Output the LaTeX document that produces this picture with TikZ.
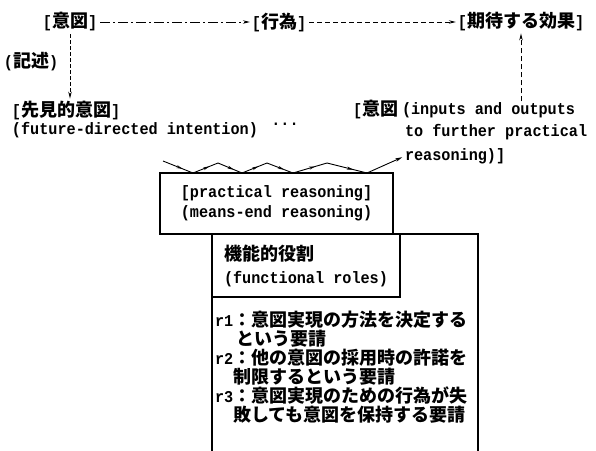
\documentclass[tikz,border=0pt]{standalone}
\usepackage{fontspec}
\setmonofont{Liberation Mono}[FakeStretch=0.92]
\newfontfamily\jpfont{Noto Sans CJK JP}
\usetikzlibrary{arrows.meta,decorations.markings}
\newcommand{\jtxt}[1]{{\jpfont\bfseries\fontsize{18}{19}\selectfont #1}}
\newcommand{\etxt}[1]{{\ttfamily\bfseries\fontsize{16.5}{20}\selectfont #1}}
\begin{document}
\begin{tikzpicture}[x=1pt,y=-1pt,
  every node/.style={inner sep=0pt, outer sep=0pt},
  lbl/.style={anchor=west},
  box/.style={draw, line width=1.1pt},
  arr/.style={line width=0.9pt,-{Stealth[length=7pt,width=3.5pt]}},
  dashdot/.style={dash pattern=on 10pt off 3pt on 2pt off 3pt},
  dsh/.style={dash pattern=on 5pt off 3pt},
  vdsh/.style={dash pattern=on 4pt off 2pt},
  zz/.style={line width=0.9pt, postaction={decorate},
    decoration={markings, mark=at position 0.65 with {\arrow{Stealth[length=6pt,width=3pt]}}}},
  boxfont/.style={font=\ttfamily\bfseries\fontsize{16.5}{20}\selectfont}
]
\useasboundingbox (0,0) rectangle (596,450);

% top row
\node (ito) at (70,22) {\etxt{[}\jtxt{意図}\etxt{]}};
\node (koui) at (279,22) {\etxt{[}\jtxt{行為}\etxt{]}};
\node (kitai) at (521,22) {\etxt{[}\jtxt{期待する効果}\etxt{]}};

\node[lbl] (kijutsu) at (4,62) {\etxt{(}\jtxt{記述}\etxt{)}};
\node[lbl] (senken) at (12,111) {\etxt{[}\jtxt{先見的意図}\etxt{]}};
\node[lbl] (future) at (12,130) {\etxt{(future-directed intention)}};
\node (dots) at (285,124) {\etxt{...}};

\node[lbl] (ito2) at (353,110) {\etxt{[}\jtxt{意図}};
\node[lbl] (inputs) at (402,110) {\etxt{(inputs and outputs}};
\node[lbl] (further) at (405,132) {\etxt{to further practical}};
\node[lbl] (reas) at (405,156) {\etxt{reasoning)]}};

% boxes
\node[box, boxfont, minimum width=233pt, minimum height=61pt, align=center] (pr) at (276.5,203.5)
  {[practical reasoning]\\(means-end reasoning)};
\draw[box] (212,451) -- (212,234) -- (478,234) -- (478,451);
\node[box, minimum width=188pt, minimum height=63pt, align=left,
  font=\fontsize{15}{23}\selectfont] (fr) at (306,265.5)
  {\jtxt{機能的役割}\\\etxt{(functional roles)}};

\node[lbl] (q1) at (215,320) {\etxt{r1}\jtxt{：意図実現の方法を決定する}};
\node[lbl] (q2) at (236,339) {\jtxt{という要請}};
\node[lbl] (q3) at (215,358) {\etxt{r2}\jtxt{：他の意図の採用時の許諾を}};
\node[lbl] (q4) at (233,377) {\jtxt{制限するという要請}};
\node[lbl] (q5) at (215,396) {\etxt{r3}\jtxt{：意図実現のための行為が失}};
\node[lbl] (q6) at (233,415) {\jtxt{敗しても意図を保持する要請}};

% arrows
\draw[arr, dashdot, shorten <=3pt, shorten >=2pt] (ito) -- (koui);
\draw[arr, dsh, shorten <=3pt, shorten >=2pt] (koui) -- (kitai);
\draw[arr, vdsh, shorten <=3pt, shorten >=3pt] (ito.south) -- (ito.south |- senken.north);
\draw[arr, dsh, shorten <=1pt, shorten >=2pt] (kitai.south |- inputs.north) -- (kitai.south);

% zigzag
\coordinate (z0) at (163,161);
\coordinate (z1) at (193,173);
\coordinate (z2) at (218,163);
\coordinate (z3) at (242,173);
\coordinate (z4) at (267,163);
\coordinate (z5) at (293,173);
\coordinate (z6) at (327,163);
\coordinate (z7) at (367,173);
\foreach \a/\b in {z0/z1,z1/z2,z2/z3,z3/z4,z4/z5,z5/z6,z6/z7}
  \draw[zz] (\a) -- (\b);
\draw[arr, shorten >=3pt] (z7) -- (reas.west);
\end{tikzpicture}
\end{document}
